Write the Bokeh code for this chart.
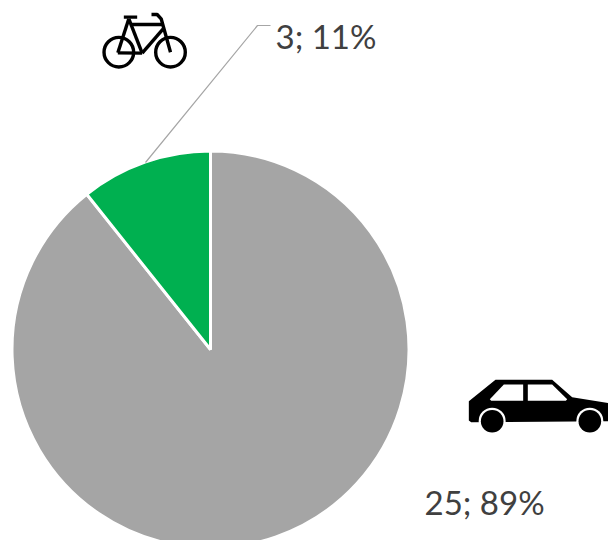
import math
from bokeh.plotting import figure
from bokeh.models import Range1d
from bokeh.core.properties import value
from bokeh.embed import file_html
from bokeh.resources import INLINE

categories = ["Car", "Bicycle"]
counts = [25, 3]
colors = ["#a5a5a5", "#00b050"]
labels = ["25; 89%", "3; 11%"]

W, H = 608, 540
CX, CY, R = 210, 349, 198.5


def Y(py):
    return H - py


def bx(v):
    return [90 + a / 3 for a in v]


def by(v):
    return [Y(a / 3) for a in v]


def cx(v):
    return [460 + a / 3 for a in v]


def cy(v):
    return [Y(370 + a / 3) for a in v]


p = figure(width=W, height=H, output_backend="svg", toolbar_location=None,
           x_range=Range1d(0, W), y_range=Range1d(0, H), min_border=0,
           outline_line_color=None, border_fill_color="white", background_fill_color="white")
p.axis.visible = False
p.grid.visible = False

# pie
total = sum(counts)
a_top = math.pi / 2
a_green = a_top + 2 * math.pi * counts[1] / total
p.wedge(x=[CX], y=[Y(CY)], radius=R, start_angle=[a_green], end_angle=[a_top + 2 * math.pi],
        fill_color=colors[0], line_color="white", line_width=3)
p.wedge(x=[CX], y=[Y(CY)], radius=R, start_angle=[a_top], end_angle=[a_green],
        fill_color=colors[1], line_color="white", line_width=3)

# leader
p.line([145, 257, 270], [Y(162), Y(25), Y(25)], line_color="#a6a6a6", line_width=1.2)

# labels
font = value("Lato")
p.text(x=[424], y=[Y(501)], text=[labels[0]], text_font=font, text_font_size="33px",
       text_color="#404040", text_baseline="middle", text_align="left")
p.text(x=[275], y=[Y(35)], text=[labels[1]], text_font=font, text_font_size="33px",
       text_color="#404040", text_baseline="middle", text_align="left")

# bicycle icon
BK = "black"
p.circle(x=bx([85, 240]), y=by([155, 155]), radius=14.8, fill_color=None, line_color=BK, line_width=3.4)
lines_x = [
    [100, 140],
    [115, 82],
    [115, 155],
    [82, 155],
    [120, 215],
    [218, 155],
    [183, 200, 212, 240],
]
lines_y = [
    [50, 50],
    [55, 157],
    [55, 158],
    [157, 158],
    [72, 72],
    [85, 158],
    [42, 42, 55, 155],
]
for lx, ly in zip(lines_x, lines_y):
    p.line(bx(lx), by(ly), line_color=BK, line_width=3.4)

# car icon
p.patch(cx([25, 105, 275, 335, 444, 444, 32, 25]), cy([92, 28, 28, 80, 98, 152, 155, 150]),
        fill_color=BK, line_color=None)
p.patch(cx([88, 130, 188, 188, 92]), cy([86, 42, 42, 91, 91]), fill_color="white", line_color=None)
p.patch(cx([202, 275, 320, 316, 202]), cy([42, 42, 86, 91, 91]), fill_color="white", line_color=None)
p.circle(x=cx([95, 388]), y=cy([152, 152]), radius=13.5, fill_color="white", line_color=None)
p.circle(x=cx([95, 388]), y=cy([152, 152]), radius=11.3, fill_color=BK, line_color=None)

open("out.html", "w").write(file_html(p, INLINE))
